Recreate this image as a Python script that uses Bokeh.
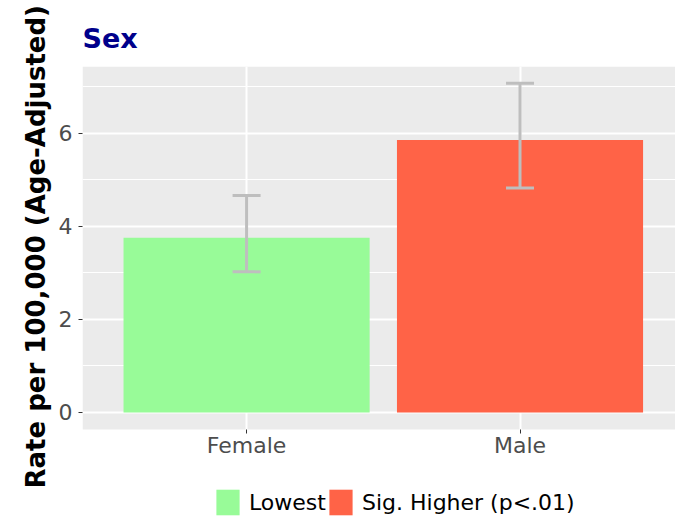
from bokeh.plotting import figure
from bokeh.models import (ColumnDataSource, Range1d, FixedTicker, Whisker, TeeHead, Legend,
                          LegendItem, BoxAnnotation, Title)
from bokeh.embed import file_html
from bokeh.resources import INLINE

categories = ["Female", "Male"]
rates = [3.75, 5.85]
lower = [3.02, 4.82]
upper = [4.66, 7.07]
groups = ["Lowest", "Sig. Higher (p<.01)"]
colors = ["#98FB98", "#FF6347"]
y_ticks = [0, 2, 4, 6]
y_minor = [1, 3, 5, 7]
xpos = [1, 2]

# layout constants (panel extent in data units; area below holds axis labels + legend)
PANEL_YMIN, PANEL_YMAX = -0.365, 7.428
FRAME_YMIN = -2.3616

src = ColumnDataSource(dict(x=xpos, rate=rates, lower=lower, upper=upper, group=groups, color=colors))

p = figure(width=675, height=522, output_backend="svg", toolbar_location=None,
           x_range=Range1d(0.4, 2.5686), y_range=Range1d(FRAME_YMIN, PANEL_YMAX),
           min_border_left=82, min_border_right=0, min_border_top=66, min_border_bottom=0)
p.background_fill_color = "white"
p.border_fill_color = "white"
p.outline_line_color = None

# grey plotting panel
p.add_layout(BoxAnnotation(bottom=PANEL_YMIN, fill_color="#EBEBEB", fill_alpha=1,
                           line_color=None, level="image"))

p.title.text = "Sex"
p.title.text_font = "DejaVu Sans"
p.title.text_font_size = "27px"
p.title.text_font_style = "bold"
p.title.text_color = "#00008B"
p.title.align = "left"
p.title.standoff = 25

bars = p.vbar(x="x", top="rate", width=0.9, bottom=0, source=src, fill_color="color", line_color=None)

wh = Whisker(base="x", upper="upper", lower="lower", source=src, line_color="#BEBEBE", line_width=3,
             upper_head=TeeHead(size=28, line_color="#BEBEBE", line_width=3),
             lower_head=TeeHead(size=28, line_color="#BEBEBE", line_width=3),
             level="annotation")
p.add_layout(wh)

p.xaxis.ticker = FixedTicker(ticks=xpos)
p.xaxis.major_label_overrides = {x: c for x, c in zip(xpos, categories)}
p.xaxis.fixed_location = PANEL_YMIN
p.yaxis.ticker = FixedTicker(ticks=y_ticks, minor_ticks=y_minor)

for ax in (p.xaxis[0], p.yaxis[0]):
    ax.axis_line_color = None
    ax.major_tick_line_color = "#333333"
    ax.major_tick_in = 0
    ax.major_tick_out = 4
    ax.minor_tick_line_color = None
    ax.major_label_text_font = "DejaVu Sans"
    ax.major_label_text_font_size = "22px"
    ax.major_label_text_color = "#4D4D4D"
p.xaxis.major_label_standoff = 0
p.yaxis.major_label_standoff = 6

ylab = Title(text="Rate per 100,000 (Age-Adjusted)", align="left", offset=34,
             text_font="DejaVu Sans", text_font_size="26px", text_font_style="bold",
             text_color="black")
p.add_layout(ylab, "left")

p.xgrid.ticker = FixedTicker(ticks=xpos)
p.xgrid.grid_line_color = "white"
p.xgrid.grid_line_width = 2
p.ygrid.grid_line_color = "white"
p.ygrid.grid_line_width = 2
p.ygrid.minor_grid_line_color = "white"
p.ygrid.minor_grid_line_width = 1

items = [LegendItem(label=g, renderers=[bars], index=i) for i, g in enumerate(groups)]
legend = Legend(items=items, orientation="horizontal", location=(131, 4),
                glyph_width=29, glyph_height=32, label_standoff=7, spacing=0,
                padding=0, margin=0, background_fill_alpha=0, border_line_color=None,
                label_text_font="DejaVu Sans", label_text_font_size="22px", label_text_color="black")
p.add_layout(legend, "center")

open("out.html", "w").write(file_html(p, INLINE))
